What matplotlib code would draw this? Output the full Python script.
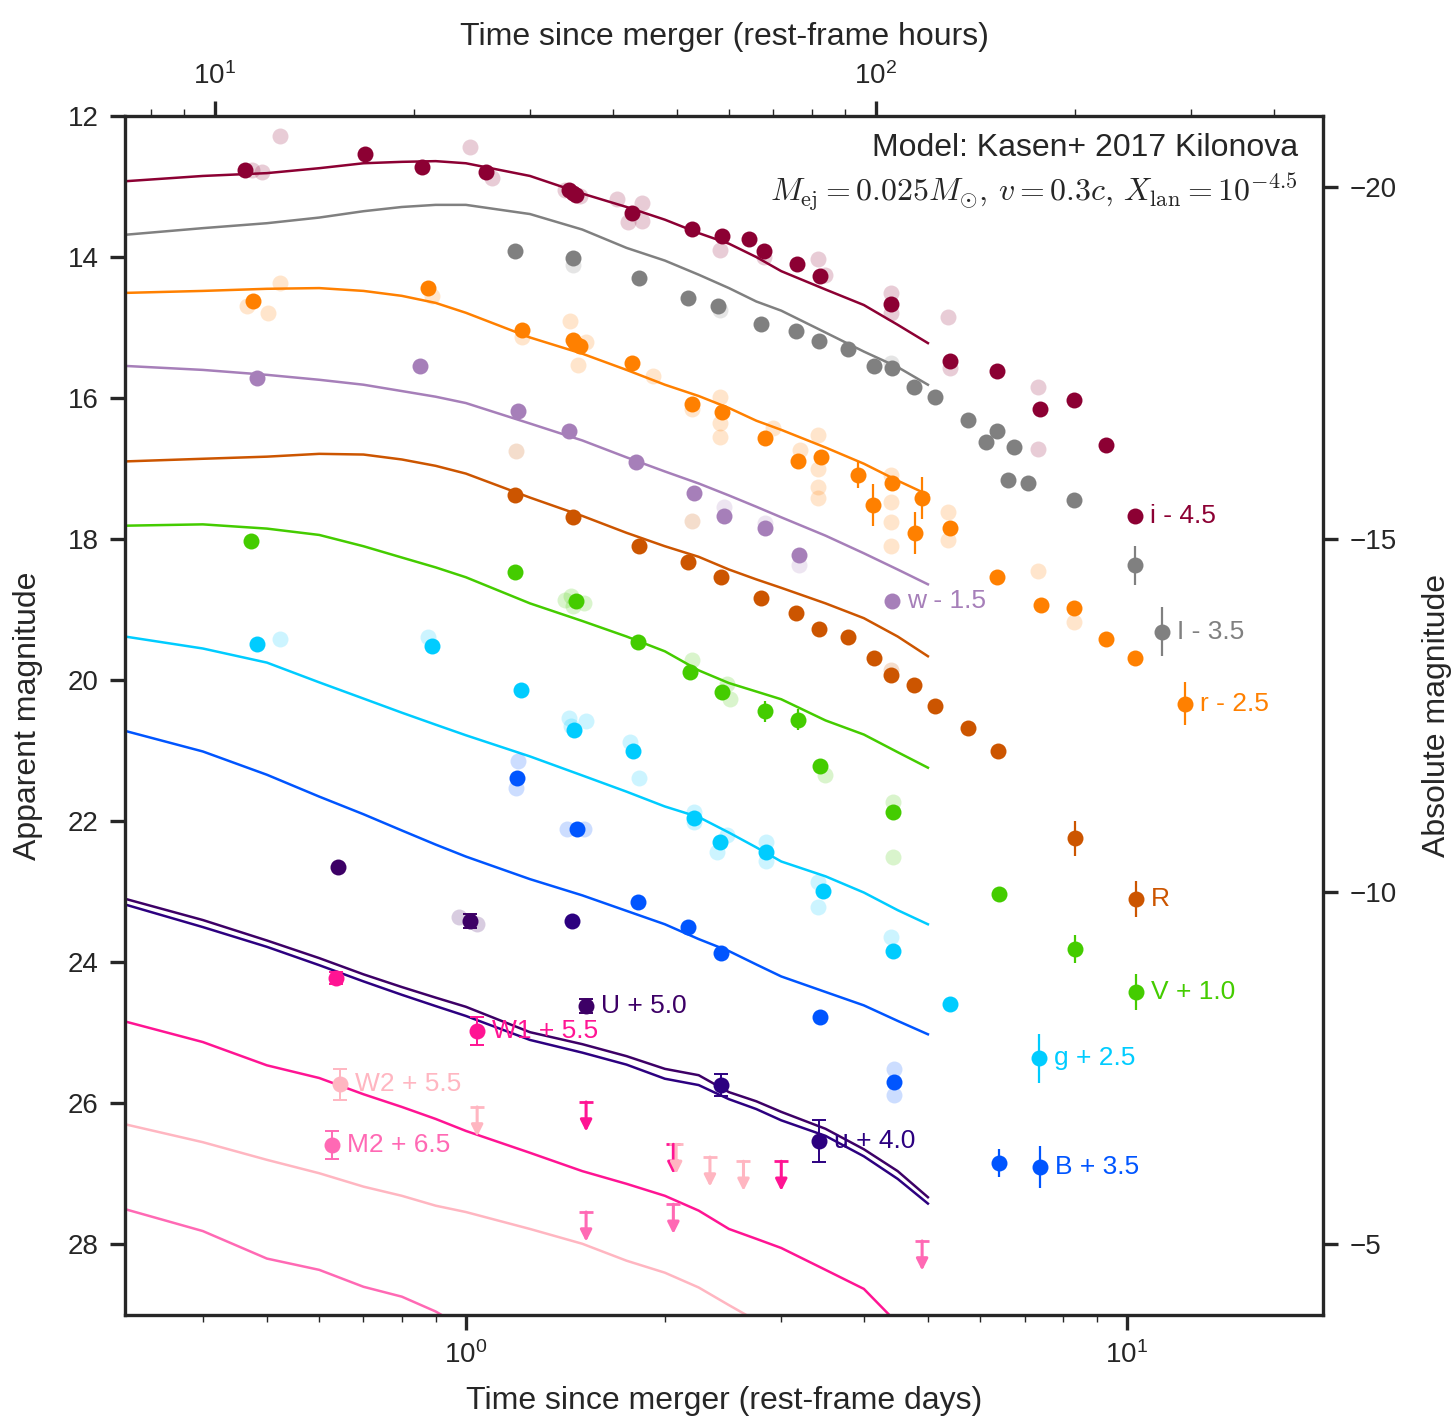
import matplotlib
matplotlib.use('Agg')
import matplotlib.pyplot as plt

plt.rcParams['font.family'] = ['Liberation Sans', 'DejaVu Sans']
plt.rcParams['mathtext.fontset'] = 'custom'
plt.rcParams['mathtext.rm'] = 'Liberation Sans'
plt.rcParams['mathtext.it'] = 'Liberation Sans:italic'
plt.rcParams['mathtext.bf'] = 'Liberation Sans:bold'
INK = '#262626'
plt.rcParams['text.color'] = INK
plt.rcParams['axes.labelcolor'] = INK
plt.rcParams['axes.edgecolor'] = INK
plt.rcParams['xtick.color'] = INK
plt.rcParams['ytick.color'] = INK

DIST_MOD = 33.0

# Kasen model light curves (rest-frame days, apparent mag incl. offsets)
model_t = [0.3, 0.4, 0.5, 0.6, 0.7, 0.8, 0.9, 1.0, 1.25, 1.5, 1.75, 2.0,
           2.25, 2.5, 2.75, 3.0, 3.5, 4.0, 4.5, 5.0]
model_i = [12.93, 12.85, 12.81, 12.74, 12.67, 12.65, 12.64, 12.67, 12.85, 13.10, 13.29, 13.47,
           13.66, 13.81, 14.00, 14.20, 14.46, 14.68, 14.96, 15.22]
model_I = [13.69, 13.59, 13.52, 13.44, 13.35, 13.29, 13.26, 13.26, 13.39, 13.61, 13.87, 14.05,
           14.25, 14.44, 14.63, 14.76, 15.07, 15.34, 15.56, 15.81]
model_r = [14.51, 14.48, 14.45, 14.44, 14.48, 14.55, 14.65, 14.79, 15.14, 15.37, 15.60, 15.81,
           15.97, 16.14, 16.32, 16.45, 16.70, 16.93, 17.17, 17.37]
model_w = [15.54, 15.60, 15.67, 15.74, 15.81, 15.90, 15.98, 16.07, 16.36, 16.60, 16.84, 17.04,
           17.21, 17.38, 17.54, 17.69, 17.95, 18.20, 18.43, 18.64]
model_R = [16.90, 16.86, 16.83, 16.79, 16.80, 16.87, 16.96, 17.07, 17.41, 17.67, 17.91, 18.10,
           18.25, 18.43, 18.57, 18.69, 18.91, 19.12, 19.38, 19.66]
model_V = [17.81, 17.79, 17.85, 17.94, 18.10, 18.26, 18.40, 18.54, 18.91, 19.16, 19.38, 19.59,
           19.86, 20.04, 20.16, 20.27, 20.57, 20.77, 21.02, 21.24]
model_g = [19.37, 19.55, 19.75, 20.03, 20.26, 20.46, 20.63, 20.78, 21.08, 21.35, 21.58, 21.79,
           21.94, 22.16, 22.37, 22.57, 22.78, 23.01, 23.26, 23.46]
model_B = [20.70, 21.01, 21.34, 21.65, 21.90, 22.13, 22.33, 22.50, 22.82, 23.05, 23.27, 23.46,
           23.67, 23.84, 24.03, 24.20, 24.42, 24.61, 24.83, 25.02]
model_U = [23.08, 23.40, 23.69, 23.94, 24.17, 24.35, 24.50, 24.63, 24.99, 25.16, 25.33, 25.51,
           25.60, 25.84, 25.97, 26.12, 26.36, 26.65, 26.96, 27.33]
model_u = [23.16, 23.50, 23.78, 24.04, 24.27, 24.46, 24.62, 24.76, 25.10, 25.28, 25.45, 25.65,
           25.74, 25.94, 26.08, 26.24, 26.46, 26.75, 27.07, 27.42]
model_W1 = [24.82, 25.13, 25.46, 25.64, 25.87, 26.05, 26.22, 26.39, 26.70, 26.96, 27.14, 27.31,
            27.52, 27.78, 27.92, 28.05, 28.36, 28.63, 29.12, 29.41]
model_W2 = [26.28, 26.55, 26.80, 26.99, 27.18, 27.31, 27.45, 27.54, 27.78, 27.99, 28.23, 28.40,
            28.61, 28.86, 29.08]
model_M2 = [27.48, 27.81, 28.20, 28.36, 28.60, 28.74, 28.95, 29.20]

# photometry: highlighted points
i_t = [0.463, 0.703, 0.858, 1.072, 1.43, 1.452, 1.47, 1.783, 2.197, 2.44, 2.68, 2.82, 3.17, 3.43,
       4.39, 5.40, 6.36, 7.38, 8.32, 9.30, 10.28]
i_m = [12.77, 12.54, 12.72, 12.79, 13.05, 13.09, 13.12, 13.37, 13.60, 13.70, 13.74, 13.91, 14.10, 14.27,
       14.66, 15.47, 15.61, 16.16, 16.02, 16.66, 17.67]
i_e = [0] * 21

I_t = [1.186, 1.45, 1.83, 2.17, 2.41, 2.80, 3.16, 3.42, 3.78, 4.14, 4.41, 4.76, 5.12, 5.75,
       6.12, 6.36, 6.74, 6.61, 7.08, 8.32, 10.28, 11.3]
I_m = [13.91, 14.01, 14.30, 14.58, 14.69, 14.95, 15.05, 15.19, 15.31, 15.54, 15.58, 15.84, 15.99, 16.31,
       16.62, 16.46, 16.70, 17.16, 17.21, 17.45, 18.37, 19.31]
I_e = [0] * 14 + [0, 0, 0, 0.08, 0.08, 0, 0.28, 0.35]

r_t = [0.476, 0.876, 1.215, 1.45, 1.462, 1.49, 1.783, 2.20, 2.44, 2.83, 3.18, 3.44, 3.92, 4.13,
       4.41, 4.78, 4.90, 5.40, 6.36, 7.41, 8.32, 9.30, 10.28, 12.24]
r_m = [14.63, 14.44, 15.03, 15.18, 15.22, 15.26, 15.50, 16.08, 16.19, 16.56, 16.89, 16.83, 17.09, 17.52,
       17.20, 17.91, 17.42, 17.84, 18.53, 18.93, 18.98, 19.42, 19.68, 20.33]
r_e = [0] * 12 + [0.18, 0.3, 0, 0.3, 0.3, 0, 0, 0, 0, 0, 0, 0.3]

w_t = [0.483, 0.852, 1.20, 1.43, 1.81, 2.21, 2.46, 2.83, 3.19, 4.41]
w_m = [15.71, 15.54, 16.18, 16.46, 16.91, 17.34, 17.67, 17.84, 18.23, 18.87]
w_e = [0] * 10

R_t = [1.186, 1.452, 1.83, 2.17, 2.43, 2.80, 3.16, 3.42, 3.78, 4.14, 4.40, 4.76, 5.12, 5.75,
       6.38, 8.34, 10.32]
R_m = [17.38, 17.68, 18.09, 18.32, 18.54, 18.84, 19.04, 19.28, 19.38, 19.68, 19.92, 20.07, 20.37, 20.68,
       21.01, 22.24, 23.10]
R_e = [0] * 15 + [0.25, 0.25]

V_t = [0.473, 1.186, 1.467, 1.82, 2.18, 2.44, 2.83, 3.18, 3.43, 4.43, 6.40, 8.34, 10.32]
V_m = [18.02, 18.47, 18.87, 19.46, 19.88, 20.17, 20.44, 20.56, 21.22, 21.87, 23.03, 23.81, 24.42]
V_e = [0, 0, 0, 0, 0, 0, 0.15, 0.15, 0, 0, 0.08, 0.2, 0.25]

g_t = [0.483, 0.888, 1.211, 1.457, 1.79, 2.21, 2.42, 2.84, 3.47, 4.43, 5.40, 7.36]
g_m = [19.49, 19.52, 20.14, 20.71, 21.01, 21.96, 22.30, 22.44, 22.99, 23.84, 24.59, 25.36]
g_e = [0, 0, 0, 0, 0, 0.1, 0, 0, 0, 0, 0, 0.35]

B_t = [1.194, 1.472, 1.82, 2.17, 2.43, 3.43, 4.44, 6.40, 7.38]
B_m = [21.38, 22.11, 23.15, 23.50, 23.87, 24.78, 25.70, 26.84, 26.90]
B_e = [0, 0, 0, 0, 0, 0, 0, 0.2, 0.3]

U_t = [0.640, 1.014, 1.52]
U_m = [22.65, 23.42, 24.62]
U_e = [0, 0.1, 0.1]

u_t = [1.447, 2.43, 3.42]
u_m = [23.42, 25.74, 26.53]
u_e = [0, 0.15, 0.3]

W1_t = [0.636, 1.039]
W1_m = [24.22, 24.97]
W1_e = [0.08, 0.2]

W2_t = [0.645]
W2_m = [25.73]
W2_e = [0.22]

M2_t = [0.627]
M2_m = [26.59]
M2_e = [0.2]

# photometry: other reductions (drawn faded)
i_ft = [0.475, 0.491, 0.523, 1.014, 1.095, 1.41, 1.49, 1.69, 1.76, 1.85, 1.85, 2.42, 2.82, 3.41, 3.49,
        4.39, 4.39, 5.36, 5.40, 7.33, 7.33]
i_fm = [12.77, 12.79, 12.28, 12.44, 12.88, 13.05, 13.13, 13.18, 13.50, 13.49, 13.23, 13.90, 14.00, 14.03,
        14.25, 14.51, 14.79, 14.85, 15.57, 15.84, 16.72]
I_ft = [1.45, 2.42, 4.40]
I_fm = [14.11, 14.75, 15.50]
r_ft = [0.523, 0.466, 0.502, 0.888, 1.215, 1.436, 1.477, 1.52, 1.92, 2.20, 2.42, 2.42, 2.42, 2.91,
        3.20, 3.41, 3.41, 3.41, 3.41, 4.40, 4.40, 4.40, 4.40, 5.36, 5.36, 7.33, 8.32]
r_fm = [14.37, 14.69, 14.79, 14.55, 15.14, 14.90, 15.53, 15.20, 15.68, 16.16, 15.99, 16.35, 16.55, 16.42,
        16.73, 16.52, 17.01, 17.26, 17.41, 17.09, 17.47, 17.75, 18.10, 17.62, 18.01, 18.45, 19.17]
w_ft = [2.46, 2.83, 3.19]
w_fm = [17.55, 17.77, 18.36]
R_ft = [1.19, 2.20, 4.40]
R_fm = [16.75, 17.74, 19.85]
V_ft = [1.41, 1.44, 1.51, 1.45, 2.20, 2.48, 2.51, 3.49, 4.43, 4.43]
V_fm = [18.86, 18.81, 18.90, 18.95, 19.71, 20.06, 20.26, 21.35, 21.73, 22.51]
g_ft = [0.523, 0.876, 1.43, 1.52, 1.44, 1.77, 1.83, 2.21, 2.21, 2.48, 2.40, 2.84, 2.84, 3.41, 3.41, 4.39]
g_fm = [19.42, 19.38, 20.54, 20.58, 20.65, 20.88, 21.38, 21.87, 22.01, 22.20, 22.44, 22.30, 22.57,
        22.86, 23.21, 23.64]
B_ft = [1.20, 1.19, 1.42, 1.51, 4.44, 4.44]
B_fm = [21.15, 21.53, 22.11, 22.11, 25.51, 25.88]
U_ft = [0.976, 1.04]
U_fm = [23.36, 23.46]

# Swift UVOT upper limits
W1_lim_t = [1.52, 2.06, 3.0]
W1_lim_m = [25.98, 26.58, 26.82]
W2_lim_t = [1.04, 2.08, 2.34, 2.63]
W2_lim_m = [26.05, 26.58, 26.76, 26.82]
M2_lim_t = [1.52, 2.06, 4.90]
M2_lim_m = [27.54, 27.43, 27.95]

bands = [
    # label, colour, t, m, err, faded t, faded m, model, uv
    ('i - 4.5', '#8c0033', i_t, i_m, i_e, i_ft, i_fm, model_i, False),
    ('I - 3.5', '#808080', I_t, I_m, I_e, I_ft, I_fm, model_I, False),
    ('r - 2.5', '#ff8000', r_t, r_m, r_e, r_ft, r_fm, model_r, False),
    ('w - 1.5', '#a67fb9', w_t, w_m, w_e, w_ft, w_fm, model_w, False),
    ('R', '#cc5500', R_t, R_m, R_e, R_ft, R_fm, model_R, False),
    ('V + 1.0', '#44cc00', V_t, V_m, V_e, V_ft, V_fm, model_V, False),
    ('g + 2.5', '#00ccff', g_t, g_m, g_e, g_ft, g_fm, model_g, False),
    ('B + 3.5', '#0055ff', B_t, B_m, B_e, B_ft, B_fm, model_B, False),
    ('U + 5.0', '#3d0066', U_t, U_m, U_e, U_ft, U_fm, model_U, True),
    ('u + 4.0', '#2c0080', u_t, u_m, u_e, [], [], model_u, True),
    ('W1 + 5.5', '#ff1493', W1_t, W1_m, W1_e, [], [], model_W1, True),
    ('W2 + 5.5', '#ffb6c1', W2_t, W2_m, W2_e, [], [], model_W2, True),
    ('M2 + 6.5', '#ff69b4', M2_t, M2_m, M2_e, [], [], model_M2, True),
]

limits = [
    ('#ff1493', W1_lim_t, W1_lim_m),
    ('#ffb6c1', W2_lim_t, W2_lim_m),
    ('#ff69b4', M2_lim_t, M2_lim_m),
]

fig = plt.figure(figsize=(14.53, 14.24), dpi=100)
ax = fig.add_axes([125 / 1453, 109 / 1424, 1198 / 1453, 1199 / 1424])

for label, c, t, m, e, ft, fm, mod, uv in bands:
    ax.plot(model_t[:len(mod)], mod, color=c, lw=1.8, zorder=2)
    if ft:
        ax.plot(ft, fm, 'o', color=c, alpha=0.2, ms=11.5, mec='none', zorder=3)
    ax.errorbar(t, m, yerr=e, fmt='o', color=c, ms=11.5, mec='none',
                elinewidth=1.4 if uv else 1.6, capsize=5 if uv else 0,
                capthick=1.4, zorder=4)
    ax.annotate(label, (t[-1], m[-1]), xytext=(11, 0), textcoords='offset points',
                va='center', ha='left', color=c, fontsize=19)

# upper limits: bar at the limit, arrow pointing to fainter mags
for c, lt, lm in limits:
    for t, m in zip(lt, lm):
        ax.annotate('', xy=(t, m + 0.42), xytext=(t, m),
                    arrowprops=dict(arrowstyle='-|>', color=c, lw=2.2,
                                    mutation_scale=17, shrinkA=0, shrinkB=0))
        ax.plot(t, m, marker='_', ms=10, mew=2, color=c)

ax.set_xscale('log')
ax.set_xlim(0.305, 19.8)
ax.set_ylim(29, 12)
ax.set_yticks(range(12, 29, 2))
ax.set_xlabel('Time since merger (rest-frame days)', fontsize=23, labelpad=12)
ax.set_ylabel('Apparent magnitude', fontsize=23, labelpad=18)
ax.tick_params(which='major', direction='out', length=11, width=2.4, labelsize=20, pad=8)
ax.tick_params(which='minor', direction='out', length=5, width=1)
for sp in ax.spines.values():
    sp.set_linewidth(2.4)

top = ax.secondary_xaxis('top', functions=(lambda d: d * 24, lambda h: h / 24))
top.set_xticks([10, 100])
top.set_xlabel('Time since merger (rest-frame hours)', fontsize=23, labelpad=12)
top.tick_params(which='major', direction='out', length=11, width=2.4, labelsize=20, pad=8)
top.tick_params(which='minor', direction='out', length=5, width=1)

right = ax.secondary_yaxis('right', functions=(lambda m: m - DIST_MOD, lambda M: M + DIST_MOD))
right.set_yticks([-20, -15, -10, -5])
right.set_ylabel('Absolute magnitude', fontsize=23, labelpad=18)
right.tick_params(which='major', direction='out', length=11, width=2.4, labelsize=20, pad=8)

ax.text(0.979, 0.973, 'Model: Kasen+ 2017 Kilonova', transform=ax.transAxes,
        ha='right', va='center', fontsize=23)
ax.text(0.979, 0.936, r'$M_{\rm ej}=0.025M_{\odot},\, v=0.3c,\, X_{\rm lan}=10^{-4.5}$',
        transform=ax.transAxes, ha='right', va='center', fontsize=23, math_fontfamily='cm')

fig.savefig('out.png', dpi=100)
